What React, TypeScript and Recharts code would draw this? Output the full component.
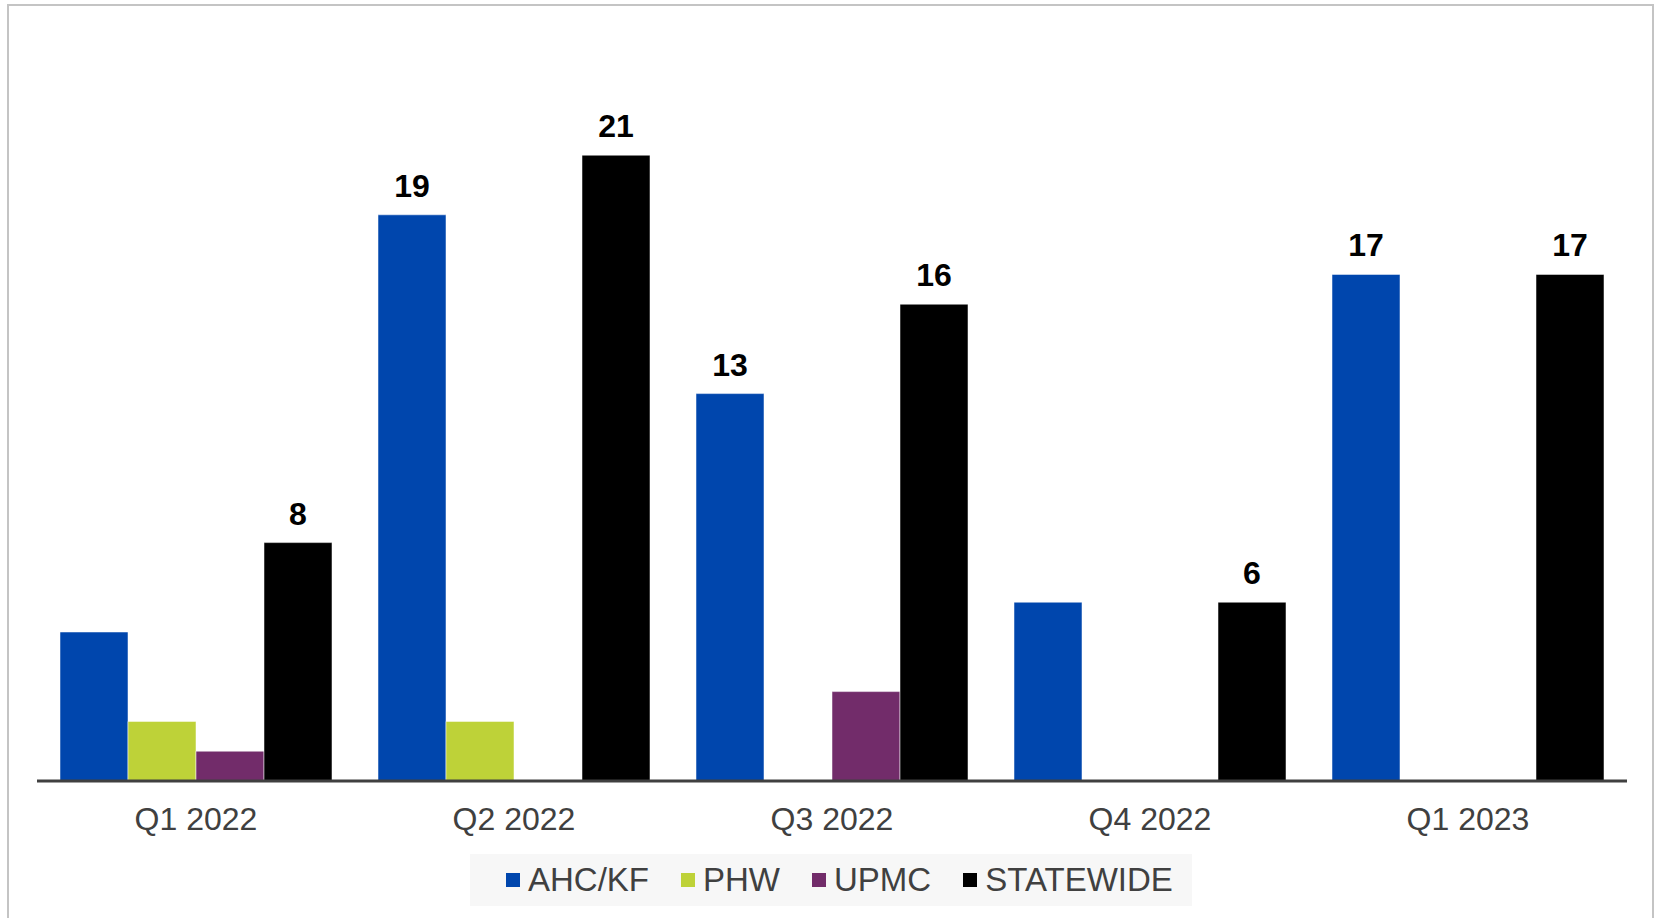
import React from 'react';
import { BarChart, Bar, XAxis, YAxis, LabelList } from 'recharts';

const categories = ['Q1 2022', 'Q2 2022', 'Q3 2022', 'Q4 2022', 'Q1 2023'];
const ahcKf = [5, 19, 13, 6, 17];
const phw = [2, 2, null, null, null];
const upmc = [1, null, 3, null, null];
const statewide = [8, 21, 16, 6, 17];
const ahcLabelShown = [false, true, true, false, true];
const statewideLabelShown = [true, true, true, true, true];

const seriesNames = ['AHC/KF', 'PHW', 'UPMC', 'STATEWIDE'];
const seriesColors = ['#0046AD', '#BED238', '#722C6A', '#000000'];

const data = categories.map((c, i) => ({
  name: c,
  ahc: ahcKf[i],
  phw: phw[i],
  upmc: upmc[i],
  statewide: statewide[i],
  ahcLabel: ahcLabelShown[i] ? ahcKf[i] : null,
  swLabel: statewideLabelShown[i] ? statewide[i] : null,
}));

const FONT = '"Liberation Sans", Arial, Helvetica, sans-serif';

const renderLabel = (props: any) => {
  const { x, y, width, value } = props;
  if (value === null || value === undefined) return null;
  return (
    <text
      x={Number(x) + Number(width) / 2}
      y={Number(y) - 18}
      textAnchor="middle"
      fontFamily={FONT}
      fontSize={32}
      fontWeight="bold"
      fill="#000000"
    >
      {value}
    </text>
  );
};

const CatTick = (props: any) => {
  const { x, y, payload } = props;
  return (
    <text x={x} y={y + 41} textAnchor="middle" fontFamily={FONT} fontSize={32} fill="#404040">
      {payload.value}
    </text>
  );
};

const LegendBox = () => (
  <div
    style={{
      position: 'absolute',
      left: 470,
      top: 854,
      width: 722,
      height: 52,
      background: '#f7f7f7',
      display: 'flex',
      alignItems: 'center',
      justifyContent: 'flex-start',
      paddingLeft: 36,
      boxSizing: 'border-box',
      fontFamily: FONT,
      fontSize: 33,
      color: '#404040',
      whiteSpace: 'nowrap',
    }}
  >
    {seriesNames.map((n, i) => (
      <div key={n} style={{ display: 'flex', alignItems: 'center', marginRight: i < seriesNames.length - 1 ? 32 : 0 }}>
        <div style={{ width: 14, height: 14, background: seriesColors[i], marginRight: 8 }} />
        <span>{n}</span>
      </div>
    ))}
  </div>
);

export default function App() {
  return (
    <div style={{ position: 'absolute', left: 0, top: 0, width: 1657, height: 918, background: '#fff', overflow: 'hidden' }}>
      <div
        style={{
          position: 'absolute',
          left: 7,
          top: 4,
          width: 1647,
          height: 930,
          border: '2px solid #c4c4c4',
          boxSizing: 'border-box',
        }}
      />
      <div style={{ position: 'absolute', left: 0, top: 0 }}>
        <BarChart
          width={1657}
          height={918}
          data={data}
          margin={{ top: 36, right: 30, bottom: 77, left: 37 }}
          barCategoryGap={23}
          barGap={0}
        >
          <XAxis
            dataKey="name"
            height={60}
            axisLine={{ stroke: '#404040', strokeWidth: 3 }}
            tickLine={false}
            tick={<CatTick />}
          />
          <YAxis hide domain={[0, 25]} />
          <Bar dataKey="ahc" name="AHC/KF" fill={seriesColors[0]} stroke="#ffffff" strokeOpacity={0.5} strokeWidth={1} isAnimationActive={false}>
            <LabelList dataKey="ahcLabel" content={renderLabel} />
          </Bar>
          <Bar dataKey="phw" name="PHW" fill={seriesColors[1]} stroke="#ffffff" strokeOpacity={0.5} strokeWidth={1} isAnimationActive={false} />
          <Bar dataKey="upmc" name="UPMC" fill={seriesColors[2]} stroke="#ffffff" strokeOpacity={0.5} strokeWidth={1} isAnimationActive={false} />
          <Bar dataKey="statewide" name="STATEWIDE" fill={seriesColors[3]} stroke="#ffffff" strokeOpacity={0.5} strokeWidth={1} isAnimationActive={false}>
            <LabelList dataKey="swLabel" content={renderLabel} />
          </Bar>
        </BarChart>
      </div>
      <LegendBox />
    </div>
  );
}
